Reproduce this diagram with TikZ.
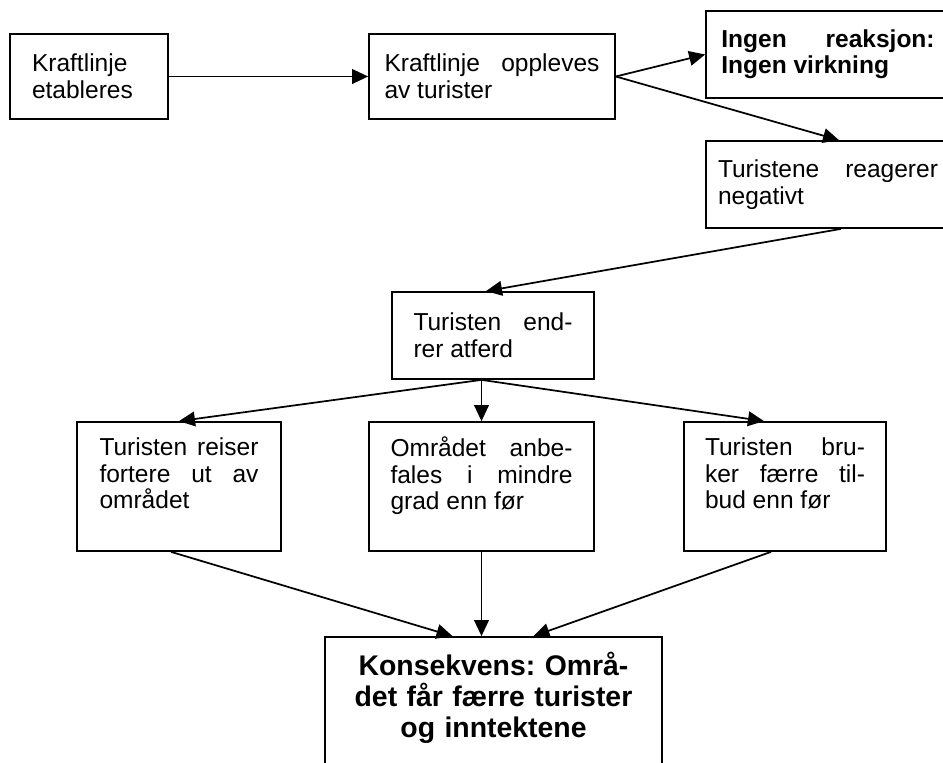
\documentclass[tikz,border=0pt]{standalone}
\usepackage{fontspec}
\setmainfont{Liberation Sans}
\usetikzlibrary{arrows.meta,positioning,calc}
\frenchspacing

\begin{document}
\begin{tikzpicture}
		[x=0.75pt, y=-0.75pt, inner sep=0pt, font=\fontsize{18.4}{20}\selectfont,
		stepbox/.style		= {draw, rectangle, line width=1.3pt, inner sep=0pt, align=justify},
		boldbox/.style		= {stepbox, font=\fontsize{18.4}{19.5}\selectfont\bfseries},
		endbox/.style		= {stepbox, align=center, font=\fontsize{21.3}{23.3}\selectfont\bfseries},
		flow/.style			= {-{Triangle[length=12pt, width=11pt]}, line width=1.3pt}]
		
		\useasboundingbox (0,0) rectangle (943,763);
		\clip (0,0) rectangle (943,763);
		
		\node [stepbox, minimum width=118.5pt, minimum height=63.75pt, text width=85.5pt]	at (89,76.5)	(1)	{Kraftlinje\\etableres};
		\node [stepbox, minimum width=184.5pt, minimum height=63.75pt, text width=161.25pt]	at (492,76.5)	(2)	{Kraftlinje oppleves\linebreak av turister};
		\node [boldbox, minimum width=183pt, minimum height=65.25pt, text width=160pt]	at (828,54.5)	(3)	{Ingen reaksjon:\linebreak Ingen virkning};
		\node [stepbox, minimum width=183pt, minimum height=65.25pt, text width=165pt]	at (828,184.5)	(4)	{Turistene reagerer\linebreak negativt};
		\node [stepbox, minimum width=151.5pt, minimum height=65.25pt, text width=119.25pt]	at (493,335.5)	(5)	{Turisten end-\linebreak rer atferd};
		
		\node [stepbox, minimum width=153pt, minimum height=96.75pt, text width=119.25pt]	at (179,486.5)	(6)	{Turisten reiser\linebreak fortere ut av\linebreak området\\\mbox{}};
		\node [stepbox, minimum width=168.75pt, minimum height=96.75pt, text width=136.5pt]	at (481.5,486.5)	(7)	{Området anbe-\linebreak fales i mindre\linebreak grad enn før\\\mbox{}};
		\node [stepbox, minimum width=151.5pt, minimum height=96.75pt, text width=120pt]	at (785,486.5)	(8)	{Turisten bru-\linebreak ker færre til-\linebreak bud enn før\\\mbox{}};
		
		\node [endbox, minimum width=252.75pt, minimum height=110.25pt, text width=240pt]	at (493.5,710.5)	(9)	{Konsekvens: Områ-\\det får færre turister\\og inntektene\\\mbox{}};
		
		% arrows
		\draw [flow] (1) -- (2);
		\draw [flow] (2.east) -- (3.west);
		\draw [flow] (2.east) -- ($(4.north)+(11,0)$);
		\draw [flow] ($(4.south)+(13,0)$) -- ($(5.north)+(-7,0)$);
		\draw [flow] (7.north |- 5.south) -- (6.north);
		\draw [flow] (7.north |- 5.south) -- (7.north);
		\draw [flow] (7.north |- 5.south) -- ($(8.north)+(-21,0)$);
		\draw [flow] ($(6.south)+(-8,0)$) -- ($(9.north)+(-41,0)$);
		\draw [flow] (7.south) -- (7.south |- 9.north);
		\draw [flow] ($(8.south)+(-14,0)$) -- ($(9.north)+(40,0)$);
\end{tikzpicture}
\end{document}
